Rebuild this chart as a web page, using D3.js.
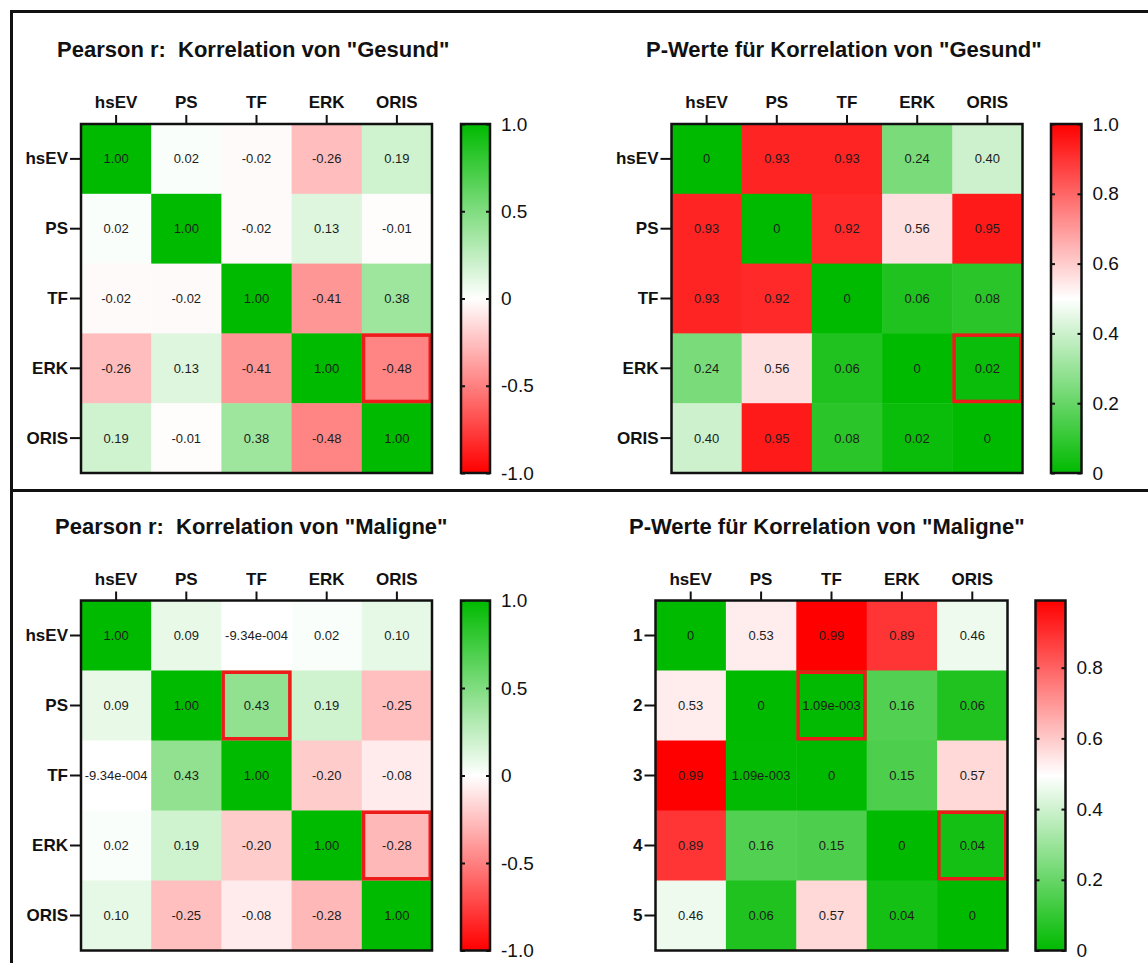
<!DOCTYPE html>
<html>
<head>
<meta charset="utf-8">
<script src="https://cdn.jsdelivr.net/npm/d3@7"></script>
<style>
  html, body { margin: 0; padding: 0; background: #ffffff; }
  svg { display: block; font-family: "Liberation Sans", Arial, Helvetica, sans-serif; }
  .title { white-space: pre; }
</style>
</head>
<body>
<svg id="chart" width="1148" height="963"></svg>
<script>
// Variables compared in each correlation matrix
const variables = ["hsEV", "PS", "TF", "ERK", "ORIS"];
const rowNumbers = ["1", "2", "3", "4", "5"];

// Pearson r, "Gesund"
const gesundR = [
  [1.00, 0.02, -0.02, -0.26, 0.19],
  [0.02, 1.00, -0.02, 0.13, -0.01],
  [-0.02, -0.02, 1.00, -0.41, 0.38],
  [-0.26, 0.13, -0.41, 1.00, -0.48],
  [0.19, -0.01, 0.38, -0.48, 1.00]
];

// P values, "Gesund"
const gesundP = [
  [0, 0.93, 0.93, 0.24, 0.40],
  [0.93, 0, 0.92, 0.56, 0.95],
  [0.93, 0.92, 0, 0.06, 0.08],
  [0.24, 0.56, 0.06, 0, 0.02],
  [0.40, 0.95, 0.08, 0.02, 0]
];

// Pearson r, "Maligne"
const maligneR = [
  [1.00, 0.09, -9.34e-4, 0.02, 0.10],
  [0.09, 1.00, 0.43, 0.19, -0.25],
  [-9.34e-4, 0.43, 1.00, -0.20, -0.08],
  [0.02, 0.19, -0.20, 1.00, -0.28],
  [0.10, -0.25, -0.08, -0.28, 1.00]
];

// P values, "Maligne"
const maligneP = [
  [0, 0.53, 0.99, 0.89, 0.46],
  [0.53, 0, 1.09e-3, 0.16, 0.06],
  [0.99, 1.09e-3, 0, 0.15, 0.57],
  [0.89, 0.16, 0.15, 0, 0.04],
  [0.46, 0.06, 0.57, 0.04, 0]
];

// Highlighted cells as [row index, column index]
const highlightGesund = [[3, 4]];
const highlightMaligne = [[1, 2], [3, 4]];

// Colour bar ticks
const rTicks = [-1, -0.5, 0, 0.5, 1];
const pTicksGesund = [0, 0.2, 0.4, 0.6, 0.8, 1];
const pTicksMaligne = [0, 0.2, 0.4, 0.6, 0.8];

const titles = [
  "Pearson r:  Korrelation von \"Gesund\"",
  "P-Werte für Korrelation von \"Gesund\"",
  "Pearson r:  Korrelation von \"Maligne\"",
  "P-Werte für Korrelation von \"Maligne\""
];

const GREEN = "rgb(0,186,0)";
const RED = "rgb(255,0,0)";

const svg = d3.select("#chart");

function cellText(v) {
  if (v === 0) return "0";
  if (Math.abs(v) < 0.01) {
    const s = v.toExponential(2);          // e.g. -9.34e-4
    const [m, e] = s.split("e");
    const digits = e.replace(/[-+]/, "").padStart(3, "0");
    return m + "e" + (e[0] === "-" ? "-" : "+") + digits;
  }
  return v.toFixed(2);
}

function barText(v) {
  return v === 0 ? "0" : v.toFixed(1);
}

function drawPanel(opt) {
  const g = svg.append("g");
  const n = opt.values.length;

  // title
  g.append("text")
    .attr("class", "title")
    .attr("x", opt.titleX).attr("y", opt.titleY)
    .attr("font-size", 22).attr("font-weight", "bold").attr("fill", "#111")
    .text(opt.title);

  const x = d3.scaleBand().domain(d3.range(n)).range([opt.left, opt.right]);
  const y = d3.scaleBand().domain(d3.range(n)).range([opt.top, opt.bottom]);
  const color = d3.scaleLinear().domain(opt.colorDomain).range(opt.colorRange).clamp(true);

  const cells = [];
  opt.values.forEach((row, i) => row.forEach((v, j) => cells.push({ i, j, v })));

  g.selectAll("rect.cell").data(cells).join("rect")
    .attr("class", "cell")
    .attr("x", d => x(d.j)).attr("y", d => y(d.i))
    .attr("width", x.bandwidth() + 0.5).attr("height", y.bandwidth() + 0.5)
    .attr("fill", d => color(d.v));

  g.selectAll("text.val").data(cells).join("text")
    .attr("class", "val")
    .attr("x", d => x(d.j) + x.bandwidth() / 2)
    .attr("y", d => y(d.i) + y.bandwidth() / 2)
    .attr("dy", "0.35em")
    .attr("text-anchor", "middle")
    .attr("font-size", 13).attr("fill", "#1c1c1c")
    .text(d => cellText(d.v));

  // highlighted cells
  g.selectAll("rect.hl").data(opt.highlight).join("rect")
    .attr("class", "hl")
    .attr("x", d => x(d[1]) + 1.75).attr("y", d => y(d[0]) + 1.75)
    .attr("width", x.bandwidth() - 3.5).attr("height", y.bandwidth() - 3.5)
    .attr("fill", "none").attr("stroke", "#ee1b1b").attr("stroke-width", 3.5);

  // frame
  g.append("rect")
    .attr("x", opt.left).attr("y", opt.top)
    .attr("width", opt.right - opt.left).attr("height", opt.bottom - opt.top)
    .attr("fill", "none").attr("stroke", "#111").attr("stroke-width", 2.5);

  // axes
  const xAxis = d3.axisTop(d3.scaleBand().domain(opt.colLabels).range([opt.left, opt.right]))
    .tickSize(9).tickPadding(7);
  const xa = g.append("g").attr("transform", `translate(0,${opt.top})`).call(xAxis);
  const yAxis = d3.axisLeft(d3.scaleBand().domain(opt.rowLabels).range([opt.top, opt.bottom]))
    .tickSize(11).tickPadding(2);
  const ya = g.append("g").attr("transform", `translate(${opt.left},0)`).call(yAxis);
  [xa, ya].forEach(a => {
    a.select(".domain").remove();
    a.selectAll(".tick line").attr("stroke", "#111").attr("stroke-width", 2);
    a.selectAll(".tick text")
      .attr("font-size", 17).attr("font-weight", "bold").attr("fill", "#111")
      .attr("font-family", "'Liberation Sans', Arial, sans-serif");
  });

  // colour bar
  const cb = opt.bar;
  const bs = d3.scaleLinear().domain(opt.barDomain).range([cb.bottom, cb.top]);
  const gid = "grad" + opt.id;
  const grad = svg.append("defs").append("linearGradient")
    .attr("id", gid).attr("x1", 0).attr("x2", 0).attr("y1", 1).attr("y2", 0);
  d3.range(0, 1.0001, 0.05).forEach(t => {
    const v = opt.barDomain[0] + t * (opt.barDomain[1] - opt.barDomain[0]);
    grad.append("stop").attr("offset", t).attr("stop-color", color(v));
  });
  g.append("rect")
    .attr("x", cb.left).attr("y", cb.top)
    .attr("width", cb.right - cb.left).attr("height", cb.bottom - cb.top)
    .attr("fill", `url(#${gid})`).attr("stroke", "#111").attr("stroke-width", 2.5);

  const right = g.append("g").attr("transform", `translate(${cb.right},0)`)
    .call(d3.axisRight(bs).tickValues(opt.barTicks).tickFormat(barText).tickSize(-4).tickPadding(11));
  const left = g.append("g").attr("transform", `translate(${cb.left},0)`)
    .call(d3.axisLeft(bs).tickValues(opt.barTicks).tickFormat("").tickSize(-4));
  [right, left].forEach(a => {
    a.select(".domain").remove();
    a.selectAll(".tick line").attr("stroke", "#111").attr("stroke-width", 2);
  });
  right.selectAll(".tick text")
    .attr("font-size", 19).attr("fill", "#111")
    .attr("font-family", "'Liberation Sans', Arial, sans-serif");
}

const rColors = { colorDomain: [-1, 0, 1], colorRange: [RED, "#ffffff", GREEN] };
const pMaxMaligne = d3.max(maligneP.flat());

drawPanel({
  id: 1, title: titles[0], titleX: 57, titleY: 57,
  values: gesundR, colLabels: variables, rowLabels: variables,
  left: 81, right: 432, top: 124, bottom: 473,
  ...rColors, highlight: highlightGesund,
  bar: { left: 461, right: 490, top: 124, bottom: 473 },
  barDomain: [-1, 1], barTicks: rTicks
});

drawPanel({
  id: 2, title: titles[1], titleX: 646, titleY: 57,
  values: gesundP, colLabels: variables, rowLabels: variables,
  left: 671.5, right: 1022.5, top: 124, bottom: 473,
  colorDomain: [0, 0.5, 1], colorRange: [GREEN, "#ffffff", RED],
  highlight: highlightGesund,
  bar: { left: 1051, right: 1081.5, top: 124, bottom: 473 },
  barDomain: [0, 1], barTicks: pTicksGesund
});

drawPanel({
  id: 3, title: titles[2], titleX: 55, titleY: 534,
  values: maligneR, colLabels: variables, rowLabels: variables,
  left: 81, right: 432, top: 600.5, bottom: 950.5,
  ...rColors, highlight: highlightMaligne,
  bar: { left: 461, right: 490, top: 600.5, bottom: 950.5 },
  barDomain: [-1, 1], barTicks: rTicks
});

drawPanel({
  id: 4, title: titles[3], titleX: 629, titleY: 534,
  values: maligneP, colLabels: variables, rowLabels: rowNumbers,
  left: 655.5, right: 1007.5, top: 600.5, bottom: 950.5,
  colorDomain: [0, pMaxMaligne / 2, pMaxMaligne], colorRange: [GREEN, "#ffffff", RED],
  highlight: highlightMaligne,
  bar: { left: 1035.5, right: 1065.5, top: 600.5, bottom: 950.5 },
  barDomain: [0, pMaxMaligne], barTicks: pTicksMaligne
});

// outer frame and divider
const frame = svg.append("g").attr("stroke", "#111").attr("stroke-width", 3);
frame.append("line").attr("x1", 10).attr("x2", 1148).attr("y1", 11.5).attr("y2", 11.5);
frame.append("line").attr("x1", 11.5).attr("x2", 11.5).attr("y1", 10).attr("y2", 963);
frame.append("line").attr("x1", 10).attr("x2", 1148).attr("y1", 490.5).attr("y2", 490.5);
</script>
</body>
</html>
